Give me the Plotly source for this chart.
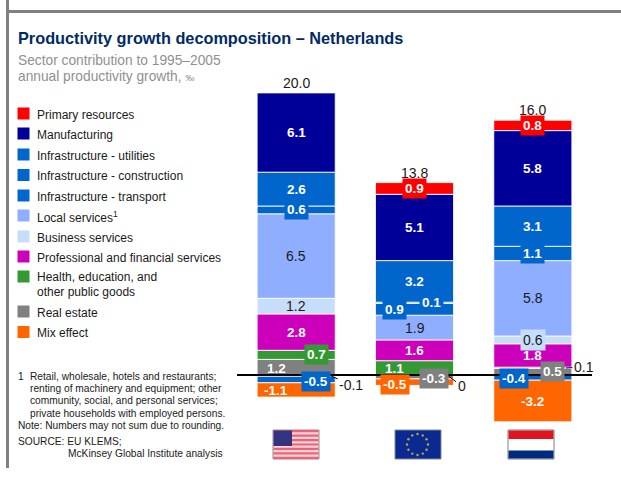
import math
import plotly.graph_objects as go

W, H = 621, 479
FONT = "Liberation Sans"
DARK = "#1a1a1a"

# ---- data ----
regions = ["United States", "EU", "Netherlands"]
totals = [20.0, 13.8, 16.0]
series = ["Primary resources", "Manufacturing", "Infrastructure - utilities",
          "Infrastructure - construction", "Infrastructure - transport",
          "Local services", "Business services",
          "Professional and financial services", "Health, education, and other public goods",
          "Real estate", "Mix effect"]
primary = [-0.1, 0.9, 0.8]
manufacturing = [6.1, 5.1, 5.8]
utilities = [2.6, 3.2, 3.1]
construction = [0.6, 0.1, 1.1]
transport = [-0.5, 0.9, -0.4]
local_services = [6.5, 1.9, 5.8]
business = [1.2, 0.0, 0.6]
professional = [2.8, 1.6, 1.8]
health = [0.7, 1.1, 0.1]
real_estate = [1.2, -0.3, 0.5]
mix = [-1.1, -0.5, -3.2]
values = [primary, manufacturing, utilities, construction, transport, local_services,
          business, professional, health, real_estate, mix]

# ---- styles ----
colors = ["#FF0000", "#000099", "#0066CC", "#0066CC", "#0066CC", "#8FAEFF", "#C6DEFB",
          "#CC00BB", "#339933", "#808080", "#FF6600"]
light = {5, 6}
legend_labels = ["Primary resources", "Manufacturing", "Infrastructure - utilities",
                 "Infrastructure - construction", "Infrastructure - transport",
                 "Local services<sup>1</sup>", "Business services",
                 "Professional and financial services", "Health, education, and<br>other public goods",
                 "Real estate", "Mix effect"]
legend_y = [114, 134, 155, 175.5, 196, 216, 237, 257, 277, 312, 332.5]

M_L, M_R, M_T, M_B = 237, 29, 89, 52


def px(x):
    return (x - M_L) / (W - M_L - M_R)


def py(y):
    return 1 - (y - M_T) / (H - M_T - M_B)


def rect(x0, y0, x1, y1, fill, line=None):
    return dict(type="rect", xref="paper", yref="paper", x0=px(x0), x1=px(x1), y0=py(y0), y1=py(y1),
                fillcolor=fill, line=dict(color=line or fill, width=1 if line else 0), layer="above")


fig = go.Figure()
# positive parts stack upward from the last legend entry; negative ones downward from the first
for i in reversed(range(len(series))):
    fig.add_bar(x=regions, y=[v if v > 0 else None for v in values[i]], name=series[i],
                marker=dict(color=colors[i], line=dict(color="rgba(255,255,255,0.85)", width=1)),
                width=0.66, showlegend=False)
for i in range(len(series)):
    fig.add_bar(x=regions, y=[v if v < 0 else None for v in values[i]], name=series[i],
                marker=dict(color=colors[i], line=dict(color="rgba(255,255,255,0.85)", width=1)),
                width=0.66, showlegend=False)

# segment centres from the stacks
centres = {}
for c in range(3):
    pos = 0.0
    for i in reversed(range(len(series))):
        v = values[i][c]
        if v > 0:
            centres[(i, c)] = pos + v / 2
            pos += v
    neg = 0.0
    for i in range(len(series)):
        v = values[i][c]
        if v < 0:
            centres[(i, c)] = neg + v / 2
            neg += v
    centres.setdefault((6, c), 0)

# label placement: (series, region): (dx, dy downward, boxed)
placement = {
    (3, 0): (0, 0, True), (9, 0): (-20, 1, False), (8, 0): (20, 0, True),
    (4, 0): (20, 1.5, True), (10, 0): (-20, 1, False),
    (0, 1): (0, 0, True), (3, 1): (17, 0, True), (4, 1): (-20, 0, True),
    (8, 1): (-20, 1, False), (10, 1): (-20, 2, True), (9, 1): (19, 2, True),
    (0, 2): (0, 0, True), (3, 2): (0, 0, True), (6, 2): (0, 0, True),
    (9, 2): (20, 0, True), (4, 2): (-19, 0.5, True),
}
# leader labels: (series, region): (head dx from bar centre, head dy from axis, ax, ay)
leaders = {
    (0, 0): (35, 1, 20, 9),
    (6, 1): (34, 1, 13, 10),
    (8, 2): (33, -7, 18, -1),
}

ann = []
for (i, c), y in centres.items():
    if (i, c) in leaders:
        continue
    dx, dy, boxed = placement.get((i, c), (0, 0, False))
    v = values[i][c]
    is_light = i in light
    ann.append(dict(x=regions[c], y=y, xref="x", yref="y", xshift=dx, yshift=-dy, showarrow=False,
                    text=f"<b>{v:.1f}</b>" if not is_light else f"{v:.1f}",
                    font=dict(family=FONT, size=14 if is_light else 13.5, color=DARK if is_light else "white"),
                    bgcolor=colors[i] if boxed else None, borderpad=2 if boxed else 1))
for (i, c), (hx, hy, ax, ay) in leaders.items():
    v = values[i][c]
    txt = "0" if v == 0 else f"{v:.1f}"
    ann.append(dict(x=regions[c], y=0, xref="x", yref="y", xshift=hx, yshift=-hy, showarrow=True,
                    arrowhead=0, arrowwidth=1, arrowcolor="black", ax=ax, ay=ay, axref="pixel", ayref="pixel",
                    text=txt, font=dict(family=FONT, size=14, color=DARK)))
# totals
for c, t in enumerate(totals):
    top = sum(values[i][c] for i in range(len(series)) if values[i][c] > 0)
    ann.append(dict(x=regions[c], y=top, xref="x", yref="y", yanchor="bottom", showarrow=False, yshift=0,
                    text=f"{t:.1f}", font=dict(family=FONT, size=14, color=DARK)))


def text(x, y, s, size, color, anchor="middle"):
    ann.append(dict(xref="paper", yref="paper", x=px(x), y=py(y), xanchor="left", yanchor=anchor,
                    align="left", showarrow=False, text=s, font=dict(family=FONT, size=size, color=color),
                    xshift=-2))


text(18, 38, "<b>Productivity growth decomposition – Netherlands</b>", 16.3, "#002B66")
text(17.5, 60.5, "Sector contribution to 1995–2005", 13.75, "#909090")
text(17.5, 76.5, 'annual productivity growth, <span style="font-size:9px">‰</span>', 13.75, "#909090")

shapes = []
for lab, y, col in zip(legend_labels, legend_y, colors):
    shapes.append(rect(17.5, y - 6.5, 29.5, y + 5.5, col))
    if "<br>" in lab:
        a, b = lab.split("<br>")
        text(37, y, a, 12, DARK)
        text(37, y + 15, b, 12, DARK)
    else:
        text(37, y + 0.5, lab, 12, DARK)

notes = [(17.5, 376.5, "1"), (29.5, 376.5, "Retail, wholesale, hotels and restaurants;"),
         (29.5, 388.5, "renting of machinery and equipment; other"),
         (29.5, 400.5, "community, social, and personal services;"),
         (29.5, 413.5, "private households with employed persons."),
         (17.5, 425.5, "Note: Numbers may not sum due to rounding."),
         (17.5, 441.5, "SOURCE: EU KLEMS;"), (67.5, 453.5, "McKinsey Global Institute analysis")]
for x, y, s in notes:
    text(x, y, s, 10.2, DARK)

# frame
shapes.append(rect(6, 0, 9, 468, "#808080"))
shapes.append(rect(6, 10, W, 13, "#808080"))
# axis line on top of the bars
shapes.append(dict(type="line", xref="paper", yref="y", x0=0, x1=1, y0=0, y1=0,
                   line=dict(color="black", width=2), layer="above"))

# flags
shapes.append(rect(273, 430, 319, 459, "#F9D5DA", "#909090"))
for s in range(7):
    y0 = 430 + s * 29 / 6.5
    shapes.append(rect(273.5, y0, 318.5, y0 + 29 / 13, "#EC6375"))
shapes.append(rect(273.5, 430.5, 292, 446, "#32347F"))
shapes.append(rect(395, 430, 441, 459, "#0A2A92", "#808890"))
for k in range(12):
    a = 2 * math.pi * k / 12
    cx, cy = 417.5 + 10.5 * math.cos(a), 444.5 + 10.5 * math.sin(a)
    shapes.append(dict(type="circle", xref="paper", yref="paper", x0=px(cx - 1.2), x1=px(cx + 1.2),
                       y0=py(cy - 1.2), y1=py(cy + 1.2), fillcolor="#B8A84A", line=dict(width=0), layer="above"))
shapes.append(rect(508, 430, 554, 459, "#FFFFFF", "#808080"))
shapes.append(rect(508.5, 430.5, 553.5, 439, "#E01420"))
shapes.append(rect(508.5, 450.5, 553.5, 458.5, "#002A80"))

fig.update_layout(
    width=W, height=H, barmode="relative", bargap=0.34, showlegend=False,
    paper_bgcolor="white", plot_bgcolor="white",
    margin=dict(l=M_L, r=M_R, t=M_T, b=M_B, pad=0),
    font=dict(family=FONT, color=DARK),
    xaxis=dict(visible=False, type="category", categoryorder="array", categoryarray=regions, range=[-0.5, 2.5]),
    yaxis=dict(visible=False, range=[-4, 22], zeroline=False),
    annotations=ann, shapes=shapes,
)
fig.write_html("out.html", post_script="document.body.style.margin='0';document.body.style.overflow='hidden';",
               config={"displayModeBar": False})
